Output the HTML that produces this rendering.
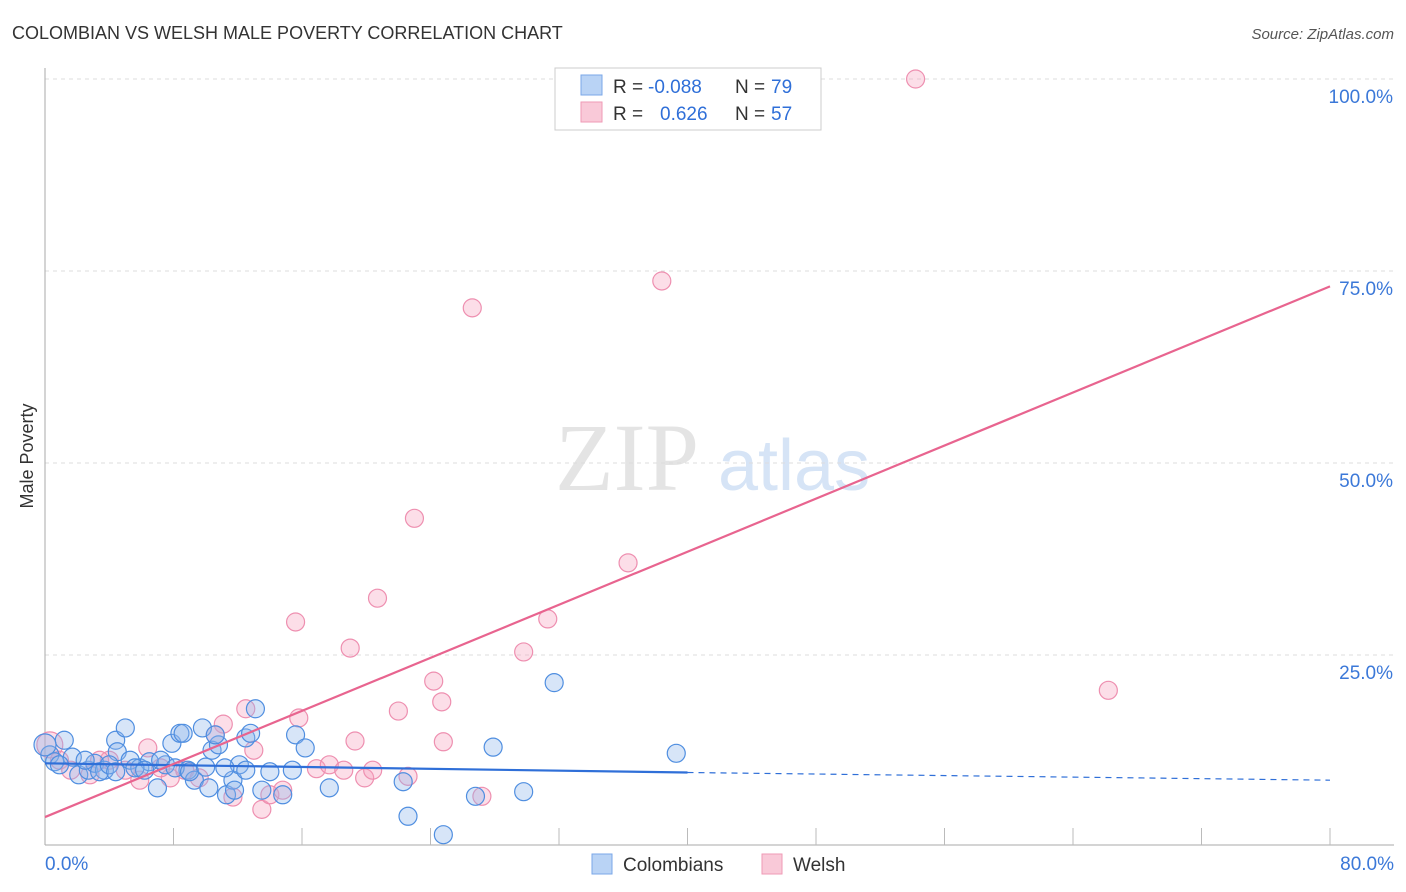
<!DOCTYPE html>
<html><head><meta charset="utf-8"><style>
body{margin:0;background:#fff;font-family:"Liberation Sans",sans-serif;}
#wrap{position:relative;width:1406px;height:892px;overflow:hidden;}
</style></head><body>
<div id="wrap">
<svg id="svg" width="1406" height="892" xmlns="http://www.w3.org/2000/svg">
<text x="12" y="39" font-size="18" fill="#333">COLOMBIAN VS WELSH MALE POVERTY CORRELATION CHART</text>
<text x="1394" y="39" font-size="15" fill="#555" font-style="italic" text-anchor="end">Source: ZipAtlas.com</text>
<text x="33" y="456" font-size="18" fill="#333" text-anchor="middle" transform="rotate(-90 33 456)">Male Poverty</text>
<text x="555" y="490" font-size="96" fill="#e4e4e4" font-family="Liberation Serif,serif">ZIP</text>
<text x="718" y="490" font-size="72" fill="#d6e4f6">atlas</text>
<g id="grid"></g><g id="pts"></g><g id="lines"></g>
<g>
<rect x="555" y="68" width="266" height="62" fill="#fff" stroke="#ccc"/>
<rect x="581" y="75" width="21" height="20" fill="#b9d3f5" stroke="#7aa7e8"/>
<rect x="581" y="102" width="21" height="20" fill="#f9c9d8" stroke="#ef9ab6"/>
<text x="613" y="93" font-size="19" fill="#333">R = </text><text x="648" y="93" font-size="19" fill="#2f6fd8">-0.088</text>
<text x="735" y="93" font-size="19" fill="#333">N = </text><text x="771" y="93" font-size="19" fill="#2f6fd8">79</text>
<text x="613" y="120" font-size="19" fill="#333">R = </text><text x="660" y="120" font-size="19" fill="#2f6fd8">0.626</text>
<text x="735" y="120" font-size="19" fill="#333">N = </text><text x="771" y="120" font-size="19" fill="#2f6fd8">57</text>
</g>
<g>
<rect x="592" y="854" width="20" height="20" fill="#b9d3f5" stroke="#7aa7e8"/>
<text x="623" y="871" font-size="19" fill="#333">Colombians</text>
<rect x="762" y="854" width="20" height="20" fill="#f9c9d8" stroke="#ef9ab6"/>
<text x="793" y="871" font-size="19" fill="#333">Welsh</text>
</g>
</svg></div>
<script>
const xTicks=[0,80];
const yTicks=[25,50,75,100];
const blueX=[0.3,0.6,1.2,1.7,2.1,2.7,3.1,3.7,4.4,4.5,5.0,5.3,5.9,6.5,7.0,7.5,7.9,8.4,8.9,9.3,9.8,10.2,10.4,10.8,11.3,11.7,12.1,12.5,12.8,13.1,13.5,14.0,14.8,15.4,15.6,16.2,17.7,22.3,22.6,24.8,26.8,27.9,29.8,31.7,39.3,0,0.9,3.4,4.0,5.6,6.2,7.2,8.1,9.0,10.0,11.2,11.8,12.5,4.4,2.5,8.6,10.6];
const blueY=[12.0,11.1,13.9,11.7,9.4,10.0,10.9,10.0,13.9,12.4,15.5,11.3,10.3,11.1,7.7,10.7,13.5,14.8,10.0,8.7,15.5,7.7,12.6,13.3,6.8,8.7,10.7,14.2,14.8,18.0,7.4,9.8,6.8,10.0,14.6,12.9,7.7,8.5,4.0,1.6,6.6,13.0,7.2,21.4,12.2,13.3,10.7,9.8,10.7,10.3,10.0,11.3,10.3,9.8,10.4,10.3,7.4,10.0,9.8,11.3,14.8,14.6];
const pinkX=[54.2,38.4,26.6,23.0,36.3,20.7,15.6,31.3,19.0,29.8,66.2,24.2,24.7,22.0,12.5,15.8,11.1,24.8,19.3,13.0,6.4,10.6,0.3,0.9,1.6,2.8,4.0,5.0,5.9,7.8,8.7,9.6,11.7,13.5,14.0,14.8,16.9,17.7,18.6,19.9,20.4,22.6,27.2,7.2,3.4];
const pinkY=[100,73.7,70.2,42.8,37.0,32.4,29.3,29.7,25.9,25.4,20.4,21.6,18.9,17.7,18.0,16.8,16.0,13.7,13.8,12.6,12.9,14.6,13.3,11.3,10.0,9.4,11.3,10.0,8.7,9.0,10.0,9.0,6.5,4.9,6.8,7.4,10.2,10.7,10.0,9.0,10.0,9.2,6.6,10.3,11.3];
const blueTrend=[[0,10.9],[40,9.7],[80,8.7]];
const pinkTrend=[[0,3.9],[80,73.0]];
const X=v=>45+v/80*1285, Y=v=>847-v/100*768;
const NS="http://www.w3.org/2000/svg";
function mk(t,a,p){const e=document.createElementNS(NS,t);for(const k in a)e.setAttribute(k,a[k]);p.appendChild(e);return e;}
const grid=document.getElementById('grid');
yTicks.forEach(t=>{
 const l=mk('line',{x1:45,x2:1394,y1:Y(t),y2:Y(t),stroke:'#ddd','stroke-dasharray':'4,4'},grid);
 
 
 const tx=mk('text',{x:1393,y:Y(t)+24,'font-size':19,fill:'#3b78d8','text-anchor':'end'},grid);
 tx.textContent=t.toFixed(1)+'%';
 
 
});
const ax=mk('line',{x1:45,x2:45,y1:68,y2:845,stroke:'#aaa'},grid);


const bx=mk('line',{x1:45,x2:1394,y1:845,y2:845,stroke:'#aaa'},grid);


for(let i=1;i<=10;i++){const v=i*8;const tk=mk('line',{x1:X(v),x2:X(v),y1:828,y2:845,stroke:'#bbb'},grid);
 
 }
xTicks.forEach((t,i)=>{const tx=mk('text',{x:i?1394:45,y:870,'font-size':19,fill:'#3b78d8','text-anchor':i?'end':'start'},grid);
 tx.textContent=t.toFixed(1)+'%';
 
 });
const pts=document.getElementById('pts');
pinkX.forEach((x,i)=>{const c=mk('circle',{cx:X(x),cy:Y(pinkY[i]),r:(i==22?13:9),fill:'rgba(245,160,190,0.35)',stroke:'#ee8fb0','stroke-width':1.2},pts);
 
 });
blueX.forEach((x,i)=>{const c=mk('circle',{cx:X(x),cy:Y(blueY[i]),r:(i==45?11:9),fill:'rgba(140,180,235,0.35)',stroke:'#4f8ee0','stroke-width':1.2},pts);
 
 });
const lines=document.getElementById('lines');
const b1=mk('line',{x1:X(blueTrend[0][0]),y1:Y(blueTrend[0][1]),x2:X(blueTrend[1][0]),y2:Y(blueTrend[1][1]),stroke:'#2f6fd8','stroke-width':2.2},lines);


const b2=mk('line',{x1:X(blueTrend[1][0]),y1:Y(blueTrend[1][1]),x2:X(blueTrend[2][0]),y2:Y(blueTrend[2][1]),stroke:'#2f6fd8','stroke-width':1.2,'stroke-dasharray':'6,5'},lines);


const p1=mk('line',{x1:X(pinkTrend[0][0]),y1:Y(pinkTrend[0][1]),x2:X(pinkTrend[1][0]),y2:Y(pinkTrend[1][1]),stroke:'#e8648f','stroke-width':2.2},lines);


</script>
</body></html>
